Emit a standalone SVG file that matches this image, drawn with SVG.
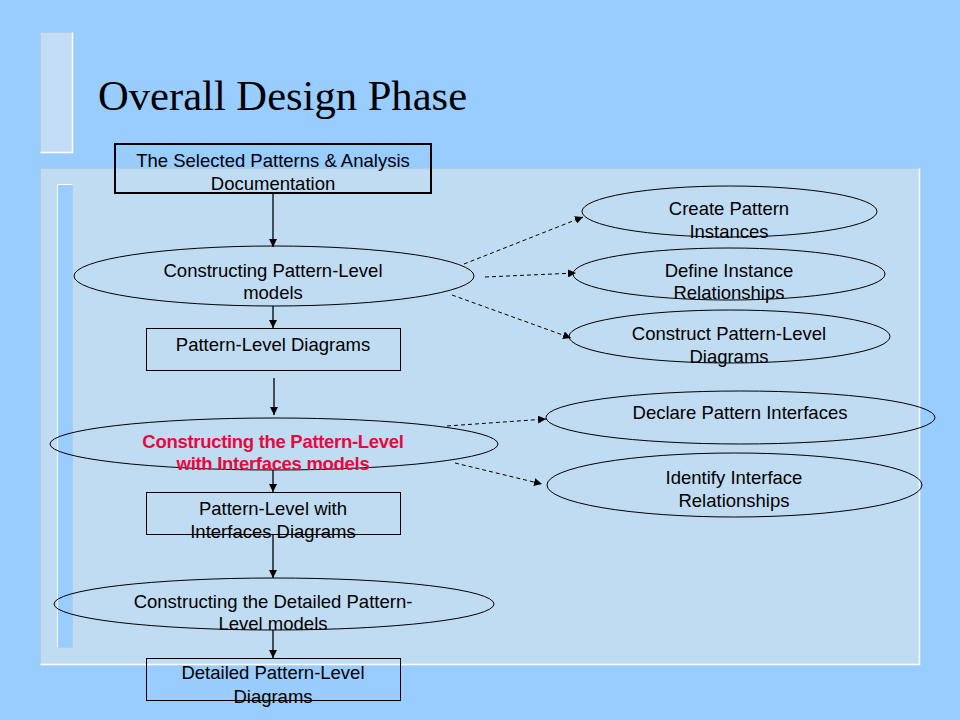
<svg xmlns="http://www.w3.org/2000/svg" width="960" height="720" viewBox="0 0 960 720">
<defs>
<marker id="ah" viewBox="0 0 10 10" refX="10" refY="5" markerWidth="8" markerHeight="8" markerUnits="userSpaceOnUse" orient="auto">
<path d="M0,0 L10,5 L0,10 z" fill="#000"/>
</marker>
<style>
.t{font-family:"Liberation Sans",Arial,sans-serif;font-size:18.5px;fill:#000;text-anchor:middle}
.r{font-family:"Liberation Sans",Arial,sans-serif;font-size:18.5px;font-weight:bold;fill:#E8083E;text-anchor:middle;letter-spacing:-0.3px}
.box{fill:none;stroke:#000;stroke-width:1}
.ell{fill:none;stroke:#000;stroke-width:1}
.solid{stroke:#000;stroke-width:1.3;fill:none;marker-end:url(#ah)}
.dash{stroke:#000;stroke-width:1;stroke-dasharray:4,3;fill:none;marker-end:url(#ah)}
</style>
</defs>
<rect x="0" y="0" width="960" height="720" fill="#99CCFF"/>
<g id="decor">
<rect x="40.5" y="32.5" width="32" height="120" fill="#C2DDF5" stroke="#B0CCE6"/>
<path d="M72.5,32.5 V152.5 H40.5" fill="none" stroke="#FFFFFF" stroke-width="1.5"/>
<rect x="40.5" y="168.5" width="879" height="496" fill="#C0DCF2" stroke="#AFCBE5"/>
<path d="M919.5,168.5 V664.5 H40.5" fill="none" stroke="#FFFFFF" stroke-width="1.5"/>
<rect x="57.5" y="184.5" width="15" height="463" fill="#99CCFF" stroke="#B0CCE6"/>
<path d="M57.5,647.5 V184.5 H72.5" fill="none" stroke="#FFFFFF" stroke-width="1"/>
</g>
<text x="98" y="110" font-family="'Liberation Serif','Times New Roman',serif" font-size="42.6" fill="#000">Overall Design Phase</text>
<g id="connectors">
<line class="solid" x1="273" y1="194" x2="273" y2="247"/>
<line class="solid" x1="273" y1="306" x2="273" y2="328"/>
<line class="solid" x1="274" y1="378" x2="274" y2="415"/>
<line class="solid" x1="273" y1="470" x2="273" y2="492"/>
<line class="solid" x1="273" y1="534" x2="273" y2="578"/>
<line class="solid" x1="273" y1="630" x2="273" y2="658"/>
<line class="dash" x1="464" y1="264" x2="583" y2="217"/>
<line class="dash" x1="485" y1="277" x2="576" y2="273"/>
<line class="dash" x1="452" y1="295" x2="571" y2="338"/>
<line class="dash" x1="447" y1="426" x2="546" y2="419"/>
<line class="dash" x1="455" y1="463" x2="542" y2="484"/>
</g>
<g id="n1">
<rect x="115" y="144" width="316" height="49" fill="none" stroke="#000" stroke-width="2"/>
<text class="t" x="273" y="167">The Selected Patterns &amp; Analysis</text>
<text class="t" x="273" y="190">Documentation</text>
</g>
<g id="n2">
<ellipse class="ell" cx="274" cy="276" rx="200" ry="30"/>
<text class="t" x="273" y="277">Constructing Pattern-Level</text>
<text class="t" x="273" y="299">models</text>
</g>
<g id="n3">
<rect class="box" x="146.5" y="328.5" width="254" height="42"/>
<text class="t" x="273" y="351">Pattern-Level Diagrams</text>
</g>
<g id="n4">
<ellipse class="ell" cx="274" cy="444" rx="224" ry="26"/>
<text class="r" x="273" y="448">Constructing the Pattern-Level</text>
<text class="r" x="273" y="470">with Interfaces models</text>
</g>
<g id="n5">
<rect class="box" x="146.5" y="492.5" width="254" height="42"/>
<text class="t" x="273" y="515">Pattern-Level with</text>
<text class="t" x="273" y="538">Interfaces Diagrams</text>
</g>
<g id="n6">
<ellipse class="ell" cx="274" cy="604" rx="220" ry="26"/>
<text class="t" x="273" y="608">Constructing the Detailed Pattern-</text>
<text class="t" x="273" y="630">Level models</text>
</g>
<g id="n7">
<rect class="box" x="146.5" y="658.5" width="254" height="42"/>
<text class="t" x="273" y="679">Detailed Pattern-Level</text>
<text class="t" x="273" y="703">Diagrams</text>
</g>
<g id="n8">
<ellipse class="ell" cx="729.5" cy="211.5" rx="147.5" ry="25.5"/>
<text class="t" x="729" y="215">Create Pattern</text>
<text class="t" x="729" y="238">Instances</text>
</g>
<g id="n9">
<ellipse class="ell" cx="729" cy="274" rx="156" ry="26"/>
<text class="t" x="729" y="277">Define Instance</text>
<text class="t" x="729" y="299">Relationships</text>
</g>
<g id="n10">
<ellipse class="ell" cx="729.5" cy="336.5" rx="160.5" ry="26.5"/>
<text class="t" x="729" y="340">Construct Pattern-Level</text>
<text class="t" x="729" y="363">Diagrams</text>
</g>
<g id="n11">
<ellipse class="ell" cx="740.5" cy="417.5" rx="194.5" ry="26.5"/>
<text class="t" x="740" y="419">Declare Pattern Interfaces</text>
</g>
<g id="n12">
<ellipse class="ell" cx="734.5" cy="485" rx="187.5" ry="32"/>
<text class="t" x="734" y="484">Identify Interface</text>
<text class="t" x="734" y="507">Relationships</text>
</g>
</svg>
